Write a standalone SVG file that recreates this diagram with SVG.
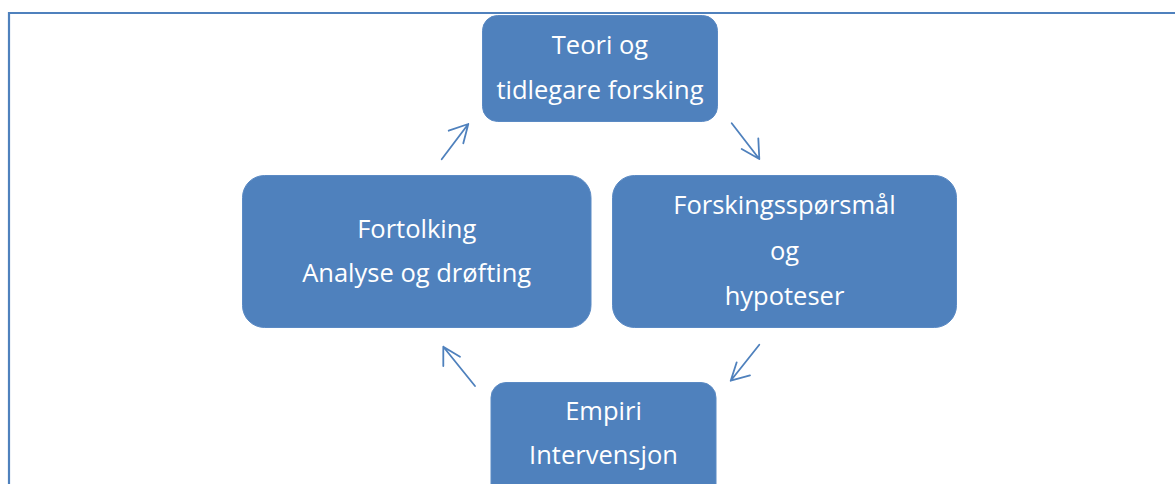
<svg xmlns="http://www.w3.org/2000/svg" width="1175" height="484" viewBox="0 0 1175 484">
<style>
.box{fill:#4F81BD;stroke:#5B8AC4;stroke-width:1}
.t{font-family:"Open Sans","Noto Sans","Liberation Sans",sans-serif;font-size:25.5px;fill:#FFFFFF;text-anchor:middle}
.arr{fill:none;stroke:#4F81BD;stroke-width:1.8;stroke-linecap:round;stroke-linejoin:round}
.frame{fill:none;stroke:#4F81BD;stroke-width:2.2}
</style>
<rect width="1175" height="484" fill="#FFFFFF"/>
<path class="frame" d="M9,490 L9,13 L1180,13"/>
<g id="node-teori">
<rect class="box" x="482.5" y="15.5" width="235" height="106" rx="15"/>
<text class="t" x="600" y="54">Teori og</text>
<text class="t" x="600" y="99">tidlegare forsking</text>
</g>
<g id="node-forsking">
<rect class="box" x="612.5" y="175.5" width="344" height="152" rx="22"/>
<text class="t" x="784.5" y="214">Forskingsspørsmål</text>
<text class="t" x="784.5" y="260">og</text>
<text class="t" x="784.5" y="305">hypoteser</text>
</g>
<g id="node-empiri">
<rect class="box" x="491" y="382.5" width="225" height="130" rx="15"/>
<text class="t" x="603.5" y="420">Empiri</text>
<text class="t" x="603.5" y="464">Intervensjon</text>
</g>
<g id="node-fortolking">
<rect class="box" x="242.5" y="175.5" width="348.5" height="152" rx="22"/>
<text class="t" x="416.7" y="238">Fortolking</text>
<text class="t" x="416.7" y="282">Analyse og drøfting</text>
</g>
<g id="connectors">
<path class="arr" d="M441.7,159.3 L468.3,124 M448.7,130.7 L468.3,124 L463.3,143.3"/>
<path class="arr" d="M731.7,123.3 L759.3,159 M741.7,149 L759.3,159 L758.3,138.3"/>
<path class="arr" d="M759.3,344.7 L730.7,380.7 M750,375.3 L730.7,380.7 L736.7,362.3"/>
<path class="arr" d="M475,386 L443.3,346.7 M460,356.7 L443.3,346.7 L443.3,366"/>
</g>
</svg>
